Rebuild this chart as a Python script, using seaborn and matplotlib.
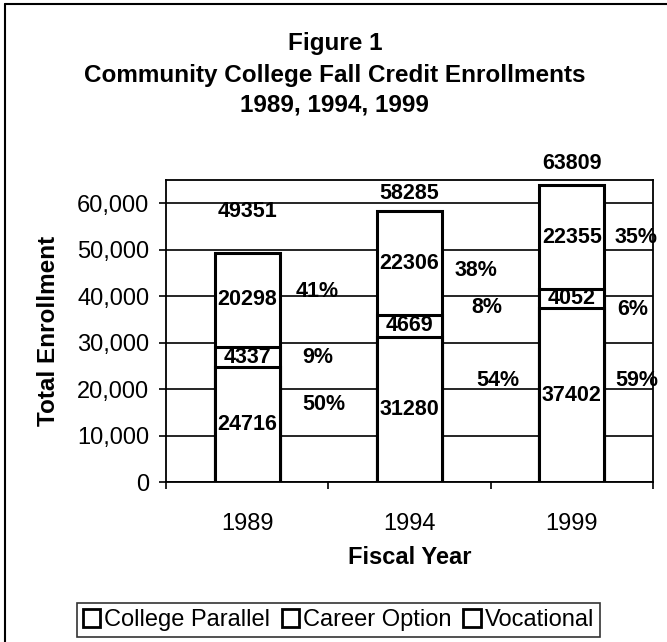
import seaborn as sns
import matplotlib.pyplot as plt
import matplotlib.patches as mpatches
import pandas as pd
import numpy as np

years = ['1989', '1994', '1999']
college_parallel = [24716, 31280, 37402]
career_option = [4337, 4669, 4052]
vocational = [20298, 22306, 22355]
totals = [49351, 58285, 63809]
pct_parallel = [50, 54, 59]
pct_career = [9, 8, 6]
pct_vocational = [41, 38, 35]
series_names = ['College Parallel', 'Career Option', 'Vocational']

# where the labels sit in the scanned original (data units)
total_label_y = [58100, 62150, 68600]
pct_label_y = [[16600, 26900, 40900],
               [21900, 37600, 45600],
               [21900, 37200, 52500]]
pct_label_dx = [[0.34, 0.34, 0.30],
                [0.41, 0.38, 0.28],
                [0.265, 0.28, 0.265]]


def build_frame():
    df = pd.DataFrame({
        'year': years,
        'parallel': college_parallel,
        'career': career_option,
        'vocational': vocational,
    })
    df['cum2'] = df['parallel'] + df['career']
    df['cum3'] = df['cum2'] + df['vocational']
    return df


def draw(df):
    sns.set_theme(style='white')
    plt.rcParams['font.family'] = ['Liberation Sans', 'DejaVu Sans']
    for k in ['text.color', 'axes.labelcolor', 'xtick.color', 'ytick.color']:
        plt.rcParams[k] = 'black'

    fig = plt.figure(figsize=(6.67, 6.42), dpi=100)
    ax = fig.add_axes([0.249, 0.249, 0.730, 0.471])

    bar_kw = dict(color='white', edgecolor='black', linewidth=2.2, width=0.4, zorder=3)
    # stacked: draw tallest cumulative first, then cover with lower ones
    sns.barplot(x='year', y='cum3', data=df, ax=ax, **bar_kw)
    sns.barplot(x='year', y='cum2', data=df, ax=ax, **bar_kw)
    sns.barplot(x='year', y='parallel', data=df, ax=ax, **bar_kw)

    ax.set_ylim(0, 65000)
    ax.set_xlim(-0.5, 2.5)
    ax.set_yticks(np.arange(0, 60001, 10000))
    ax.set_yticklabels([f'{v:,}' for v in range(0, 60001, 10000)])
    ax.yaxis.grid(True, color='black', linewidth=1.2, zorder=0)
    ax.set_axisbelow(True)
    for s in ax.spines.values():
        s.set_color('black')
        s.set_linewidth(1.3)

    ax.tick_params(axis='y', left=True, length=5, width=1.2, pad=7, labelsize=17)
    ax.tick_params(axis='x', bottom=False, pad=16, labelsize=17)
    ax.set_xticks([-0.5, 0.5, 1.5, 2.5], minor=True)
    ax.tick_params(axis='x', which='minor', bottom=True, length=5, width=1.2)

    ax.set_xlabel('Fiscal Year', fontsize=17, fontweight='bold', labelpad=8)
    ax.set_ylabel('Total Enrollment', fontsize=17.5, fontweight='bold', labelpad=12)

    lab = dict(fontsize=15.5, fontweight='bold', ha='center', va='center', zorder=5)
    for i in range(len(years)):
        segs = [(0, college_parallel[i]),
                (college_parallel[i], career_option[i]),
                (college_parallel[i] + career_option[i], vocational[i])]
        for base, h in segs:
            ax.text(i, base + h / 2, str(h), **lab)
        ax.text(i, total_label_y[i], str(totals[i]), clip_on=False, **lab)
        pcts = [pct_parallel[i], pct_career[i], pct_vocational[i]]
        for p, y, dx in zip(pcts, pct_label_y[i], pct_label_dx[i]):
            ax.text(i + dx, y, f'{p}%', fontsize=15.5, fontweight='bold',
                    ha='left', va='center', zorder=5)

    title_kw = dict(ha='center', va='center', fontsize=17.5, fontweight='bold')
    fig.text(0.502, 0.932, 'Figure 1', **title_kw)
    fig.text(0.502, 0.883, 'Community College Fall Credit Enrollments', **title_kw)
    fig.text(0.502, 0.837, '1989, 1994, 1999', **title_kw)

    handles = [mpatches.Patch(facecolor='white', edgecolor='black', linewidth=2, label=n)
               for n in series_names]
    leg = fig.legend(handles=handles, loc='center', bbox_to_anchor=(0.507, 0.034),
                     ncol=3, fontsize=17, frameon=True, fancybox=False,
                     handlelength=0.75, handleheight=0.75, handletextpad=0.15,
                     columnspacing=0.5, borderpad=0.25, borderaxespad=0)
    leg.get_frame().set_edgecolor('black')
    leg.get_frame().set_linewidth(1.2)

    # outer frame of the figure (only top and left are visible in the scan)
    fig.add_artist(plt.Line2D([0.008, 0.008], [0, 0.993], color='black', linewidth=1.5))
    fig.add_artist(plt.Line2D([0.008, 1], [0.993, 0.993], color='black', linewidth=1.5))

    fig.savefig('out.png', dpi=100, facecolor='white')


if __name__ == '__main__':
    draw(build_frame())
